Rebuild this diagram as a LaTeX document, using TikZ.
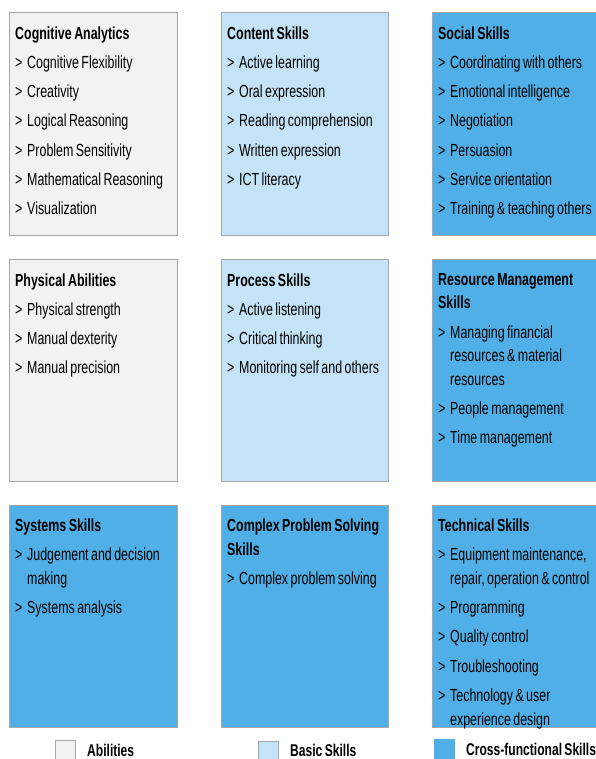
\documentclass[tikz,border=0pt]{standalone}
\usepackage{fontspec}
\setmainfont[FakeStretch=0.71, WordSpace=0.71]{Liberation Sans}
\definecolor{abilfill}{HTML}{F2F2F2}
\definecolor{basicfill}{HTML}{C5E3F7}
\definecolor{crossfill}{HTML}{4FAFE6}
\definecolor{edgegray}{HTML}{A6A6A6}
% box heading and bulleted entries
\newcommand\bxtitle[1]{\noindent{\bfseries #1}\par}
\newcommand\bxitem[1]{\par\vspace{5.8pt}\noindent\hangindent=12pt\hangafter=1\makebox[12pt][l]{>}#1\par}
\tikzset{
  card/.style={draw=edgegray, line width=0.8pt},
  abil/.style={card, fill=abilfill},
  basic/.style={card, fill=basicfill},
  cross/.style={card, fill=crossfill},
  cardtext/.style={anchor=north west, inner sep=0pt, text width=175pt, align=flush left,
    font=\fontsize{17.5pt}{23.5pt}\selectfont},
  keybox/.style={draw=edgegray, line width=0.6pt, minimum size=20pt, inner sep=0pt, anchor=north west},
  keytext/.style={anchor=base west, inner sep=0pt, font=\fontsize{17pt}{20pt}\selectfont\bfseries},
}
\begin{document}
\begin{tikzpicture}[x=1pt,y=-1pt]
\useasboundingbox (0,0) rectangle (595,759);
\fill[white] (0,0) rectangle (595,759);

% row 1
\draw[abil]  (9,12.5)  rectangle (177,235) coordinate (b11);
\draw[basic] (221,12.5) rectangle (388,235) coordinate (b12);
\draw[cross] (432,12.5) rectangle (597,235) coordinate (b13);
% row 2
\draw[abil]  (9,259.5)  rectangle (177,481.5) coordinate (b21);
\draw[basic] (221,259.5) rectangle (388,481.5) coordinate (b22);
\draw[cross] (432,259.5) rectangle (597,481.5) coordinate (b23);
% row 3
\draw[cross] (9,505)  rectangle (177,727.5) coordinate (b31);
\draw[cross] (221,505) rectangle (388,727.5) coordinate (b32);
\draw[cross] (432,505) rectangle (597,727.5) coordinate (b33);

% texts, row 1
\node[cardtext] (t11) at (15,26.2) {\bxtitle{Cognitive Analytics}%
  \bxitem{Cognitive Flexibility}\bxitem{Creativity}\bxitem{Logical Reasoning}%
  \bxitem{Problem Sensitivity}\bxitem{Mathematical Reasoning}\bxitem{Visualization}};
\node[cardtext] (t12) at (227,26.2) {\bxtitle{Content Skills}%
  \bxitem{Active learning}\bxitem{Oral expression}\bxitem{Reading comprehension}%
  \bxitem{Written expression}\bxitem{ICT literacy}};
\node[cardtext] (t13) at (438,26.2) {\bxtitle{Social Skills}%
  \bxitem{Coordinating with others}\bxitem{Emotional intelligence}\bxitem{Negotiation}%
  \bxitem{Persuasion}\bxitem{Service orientation}\bxitem{Training \& teaching others}};

% texts, row 2
\node[cardtext] (t21) at (15,273.2) {\bxtitle{Physical Abilities}%
  \bxitem{Physical strength}\bxitem{Manual dexterity}\bxitem{Manual precision}};
\node[cardtext] (t22) at (227,273.2) {\bxtitle{Process Skills}%
  \bxitem{Active listening}\bxitem{Critical thinking}\bxitem{Monitoring self and others}};
\node[cardtext] (t23) at (438,273.2) {\bxtitle{Resource Management\newline Skills}%
  \bxitem{Managing financial\newline resources \& material\newline resources}%
  \bxitem{People management}\bxitem{Time management}};

% texts, row 3
\node[cardtext] (t31) at (15,518.7) {\bxtitle{Systems Skills}%
  \bxitem{Judgement and decision\newline making}\bxitem{Systems analysis}};
\node[cardtext] (t32) at (227,518.7) {\bxtitle{Complex Problem Solving\newline Skills}%
  \bxitem{Complex problem solving}};
\node[cardtext] (t33) at (438,518.7) {\bxtitle{Technical Skills}%
  \bxitem{Equipment maintenance,\newline repair, operation \& control}%
  \bxitem{Programming}\bxitem{Quality control}\bxitem{Troubleshooting}%
  \bxitem{Technology \& user\newline experience design}};

% legend
\node[keybox, fill=abilfill]  (k1) at (55,740) {};
\node[keytext] (k1t) at (87,756) {Abilities};
\node[keybox, fill=basicfill] (k2) at (257.5,740.5) {};
\node[keytext] (k2t) at (290,756) {Basic Skills};
\node[keybox, fill=crossfill, draw=crossfill] (k3) at (433.5,739) {};
\node[keytext] (k3t) at (466,755) {Cross-functional Skills};
\end{tikzpicture}
\end{document}
